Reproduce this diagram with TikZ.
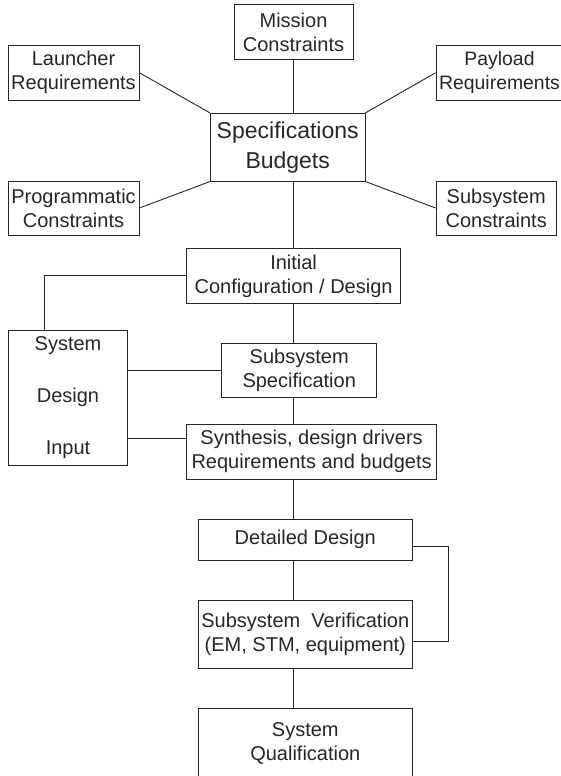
\documentclass[tikz,border=0pt]{standalone}
\usepackage{fontspec}
\setmainfont{Liberation Sans}
\usepackage{tikz}
\usetikzlibrary{calc}
\definecolor{inkgray}{RGB}{38,38,38}

\begin{document}
\begin{tikzpicture}[x=1pt, y=-1pt,
  box/.style={draw=inkgray, line width=0.9pt, align=center, inner sep=0pt, text=inkgray, font={\fontsize{20}{24}\selectfont}},
  bigbox/.style={box, font={\fontsize{23}{30}\selectfont}},
  tallbox/.style={box, font={\fontsize{20}{52}\selectfont}},
  link/.style={draw=inkgray, line width=0.9pt}
]
\useasboundingbox (0,0) rectangle (561,776);
\clip (0,0) rectangle (561,776);

% Star of inputs round the specifications.
\node[box, minimum width=119pt, minimum height=54.6pt] (mission) at (293.5,32) {Mission\\Constraints};
\node[box, minimum width=131pt, minimum height=54.3pt] (launcher) at (73.5,72.8) {Launcher\\Requirements};
\node[box, font={\fontsize{19.4}{24}\selectfont}, minimum width=127pt, minimum height=54.3pt] (payload) at (499.5,72.8) {Payload\\Requirements};
\node[bigbox, minimum width=154.5pt, minimum height=67.7pt] (specs) at (287.7,147.2) {Specifications\\Budgets};
\node[box, minimum width=131pt, minimum height=54pt] (program) at (73.5,208) {Programmatic\\Constraints};
\node[box, minimum width=120.4pt, minimum height=54pt] (subcons) at (496.2,208) {Subsystem\\Constraints};
\draw[link] (mission.south) -- (mission.south |- specs.north);
\draw[link] (launcher.east) -- (specs.north west);
\draw[link] (payload.west) -- (specs.north east);
\draw[link] (program.east) -- (specs.south west);
\draw[link] (subcons.west) -- (specs.south east);

% Design phase with the system design input.
\node[box, minimum width=213.7pt, minimum height=54.3pt] (init) at (293.6,275.9) {Initial\\Configuration / Design};
\node[tallbox, minimum width=119pt, minimum height=135.3pt] (sysin) at (68,397.6) {System\\Design\\Input};
\node[box, minimum width=155pt, minimum height=54pt] (subspec) at (299.2,370.3) {Subsystem\\Specification};
\node[box, minimum width=249.7pt, minimum height=54.7pt] (synth) at (311.6,451.7) {Synthesis, design drivers\\Requirements and budgets};
\draw[link] (specs.south -| mission.south) -- (init.north -| mission.south);
\draw[link] (init.south -| mission.south) -- (subspec.north -| mission.south);
\draw[link] (subspec.south -| mission.south) -- (synth.north -| mission.south);
\draw[link] (init.west) -| ([xshift=36pt]sysin.north west);
\draw[link] (subspec.west) -- (subspec.west -| sysin.east);
\draw[link] ([yshift=13.7pt]synth.west) -- ([yshift=13.7pt]synth.west -| sysin.east);

% Detailed design and verification loop.
\node[box, minimum width=214pt, minimum height=40.7pt] (detail) at (305.3,539.7) {Detailed Design};
\node[box, minimum width=214pt, minimum height=67.6pt] (subver) at (305.3,634.5) {Subsystem\ \ Verification\\(EM, STM, equipment)};
\node[box, minimum width=214pt, minimum height=70pt] (sysqual) at (305.3,743.7) {System\\Qualification};
\draw[link] (synth.south -| mission.south) -- (detail.north -| mission.south);
\draw[link] (detail.south -| mission.south) -- (subver.north -| mission.south);
\draw[link] (subver.south -| mission.south) -- (sysqual.north -| mission.south);
\draw[link] ([yshift=-7pt]detail.east) -- ++(35.4,0) |- ([yshift=-6.5pt]subver.east);
\end{tikzpicture}
\end{document}
